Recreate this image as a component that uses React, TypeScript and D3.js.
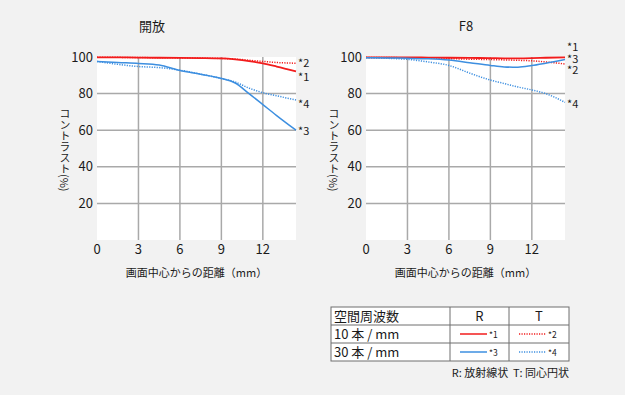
import * as d3 from "d3";

// distance from image centre (mm)
const distances = [0, 1.5, 3, 4.5, 6, 7.5, 9, 10, 11, 12, 13, 14.4];
const xTicks = [0, 3, 6, 9, 12];
const yTicks = [20, 40, 60, 80, 100];

// 開放 (wide open)
const open10R = [99.8, 99.8, 99.7, 99.6, 99.5, 99.4, 99.2, 98.7, 97.8, 96.5, 94.8, 92.2];
const open10T = [99.8, 99.8, 99.7, 99.6, 99.5, 99.4, 99.2, 98.9, 98.2, 97.6, 97.0, 96.6];
const open30R = [97.6, 97.0, 96.5, 95.6, 92.6, 90.6, 88.3, 85.8, 80.0, 74.0, 68.0, 60.0];
const open30T = [97.6, 96.0, 94.8, 94.2, 92.8, 90.6, 88.3, 86.3, 83.0, 80.5, 78.8, 76.5];

// F8
const f8_10R = [99.8, 99.8, 99.8, 99.7, 99.6, 99.5, 99.4, 99.3, 99.3, 99.4, 99.6, 99.8];
const f8_10T = [99.8, 99.7, 99.6, 99.4, 99.1, 98.8, 98.6, 98.4, 98.2, 97.9, 97.3, 96.2];
const f8_30R = [99.6, 99.5, 99.3, 99.0, 98.3, 96.9, 95.4, 94.6, 94.4, 95.3, 96.6, 98.6];
const f8_30T = [99.6, 99.3, 98.7, 97.3, 95.4, 91.2, 87.4, 85.5, 83.6, 82.0, 80.0, 75.2];

const seriesNames = ["*1", "*2", "*3", "*4"];
// where the end labels sit (in contrast units)
const openLabelAt = [89.3, 96.8, 59.5, 74.5];
const f8LabelAt = [105.3, 93.0, 99.1, 74.5];

const RED = "#f21c1c";
const BLUE = "#3d8fe0";
const FONT = "'Noto Sans CJK JP', 'Noto Sans', sans-serif";
const TEXT = "#1a1a1a";

const W = 625;
const H = 395;

interface PanelProps {
  left: number;
  title: string;
  titleX: number;
  series: number[][];
  labelAt: number[];
}

const styles = [
  { color: RED, dash: null as string | null, width: 1.8 },
  { color: RED, dash: "1.2 1.3", width: 1.5 },
  { color: BLUE, dash: null as string | null, width: 1.5 },
  { color: BLUE, dash: "1.2 1.3", width: 1.5 },
];

function Panel({ left, title, titleX, series, labelAt }: PanelProps) {
  const x = d3.scaleLinear().domain([0, 14.4]).range([left, left + 199]);
  const y = d3.scaleLinear().domain([0, 100]).range([240, 57]);
  const line = d3
    .line<number>()
    .x((_, i) => x(distances[i]))
    .y((d) => y(d))
    .curve(d3.curveMonotoneX);

  return (
    <g>
      <text x={titleX} y={31} textAnchor="middle" fontSize={13} fill={TEXT}>
        {title}
      </text>
      <rect x={x(0)} y={y(100)} width={x(14.4) - x(0)} height={y(0) - y(100)} fill="#fff" />
      {xTicks.slice(1).map((t) => (
        <line key={"gx" + t} x1={x(t)} x2={x(t)} y1={y(0)} y2={y(100)} stroke="#a9a9a9" strokeWidth={1.5} />
      ))}
      {yTicks.slice(0, -1).map((t) => (
        <line key={"gy" + t} x1={x(0)} x2={x(14.4)} y1={y(t)} y2={y(t)} stroke="#a9a9a9" strokeWidth={1.5} />
      ))}
      {xTicks.map((t) => (
        <text key={"tx" + t} x={x(t)} y={254} textAnchor="middle" fontSize={13} fill={TEXT}>
          {String(t)}
        </text>
      ))}
      {yTicks.map((t) => (
        <text key={"ty" + t} x={x(0) - 4} y={y(t) + 4.5} textAnchor="end" fontSize={13} fill={TEXT}>
          {String(t)}
        </text>
      ))}
      <text
        x={x(0) - 32}
        y={108}
        fontSize={11}
        fill={TEXT}
        style={{ writingMode: "vertical-rl" }}
      >
        コントラスト(%)
      </text>
      <text x={(x(0) + x(14.4)) / 2} y={277} textAnchor="middle" fontSize={11} fill={TEXT}>
        画面中心からの距離（mm）
      </text>
      {series.map((s, i) => (
        <path
          key={"s" + i}
          d={line(s) ?? ""}
          fill="none"
          stroke={styles[i].color}
          strokeWidth={styles[i].width}
          strokeDasharray={styles[i].dash ?? undefined}
        />
      ))}
      {seriesNames.map((n, i) => (
        <text key={"l" + n} x={x(14.4) + 2} y={y(labelAt[i]) + 4} fontSize={11} fill={TEXT}>
          {n}
        </text>
      ))}
    </g>
  );
}

const tableRows = ["空間周波数", "10 本 / mm", "30 本 / mm"];
const tableCols = ["R", "T"];

function Legend() {
  const colX = [331, 450, 509, 569];
  const rowY = [307, 325, 343, 361];
  return (
    <g>
      <rect x={colX[0]} y={rowY[0]} width={colX[3] - colX[0]} height={rowY[3] - rowY[0]} fill="#fff" stroke="#6e6e6e" strokeWidth={1} />
      {rowY.slice(1, 3).map((yy) => (
        <line key={"r" + yy} x1={colX[0]} x2={colX[3]} y1={yy} y2={yy} stroke="#6e6e6e" />
      ))}
      {colX.slice(1, 3).map((xx) => (
        <line key={"c" + xx} x1={xx} x2={xx} y1={rowY[0]} y2={rowY[3]} stroke="#6e6e6e" />
      ))}
      {tableRows.map((r, i) => (
        <text key={r} x={colX[0] + 3} y={rowY[i] + 14} fontSize={13} fill={TEXT}>
          {r}
        </text>
      ))}
      {tableCols.map((c, i) => (
        <text key={c} x={(colX[i + 1] + colX[i + 2]) / 2} y={rowY[0] + 14} textAnchor="middle" fontSize={13} fill={TEXT}>
          {c}
        </text>
      ))}
      {seriesNames.map((n, i) => {
        const col = i % 2;
        const row = Math.floor(i / 2) + 1;
        const x0 = colX[col + 1] + 10;
        const yy = (rowY[row] + rowY[row + 1]) / 2;
        return (
          <g key={"lg" + n}>
            <line
              x1={x0}
              x2={x0 + 27}
              y1={yy}
              y2={yy}
              stroke={styles[i].color}
              strokeWidth={1.5}
              strokeDasharray={styles[i].dash ?? undefined}
            />
            <text x={x0 + 29} y={yy + 4} fontSize={8.5} fill={TEXT}>
              {n}
            </text>
          </g>
        );
      })}
      <text x={colX[3]} y={377} textAnchor="end" fontSize={11} fill={TEXT} style={{ whiteSpace: "pre" }}>
        {"R: 放射線状\u00a0\u00a0T: 同心円状"}
      </text>
    </g>
  );
}

export default function App() {
  return (
    <svg
      width={W}
      height={H}
      style={{ position: "absolute", left: 0, top: 0, background: "#f2f2f2", fontFamily: FONT }}
    >
      <Panel left={97} title="開放" titleX={152} series={[open10R, open10T, open30R, open30T]} labelAt={openLabelAt} />
      <Panel left={366} title="F8" titleX={466} series={[f8_10R, f8_10T, f8_30R, f8_30T]} labelAt={f8LabelAt} />
      <Legend />
    </svg>
  );
}
